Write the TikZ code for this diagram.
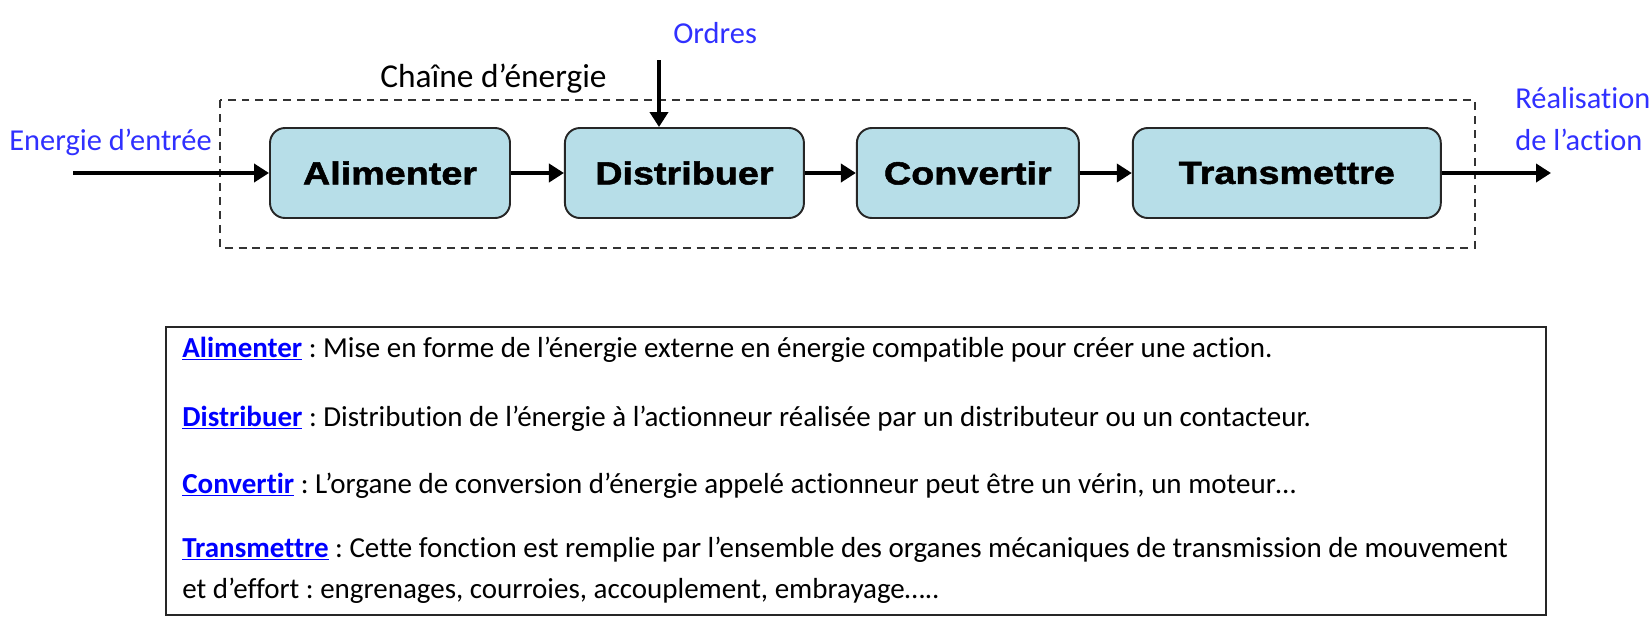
\documentclass[tikz,border=0pt]{standalone}
\usepackage{fontspec}
\setmainfont{Carlito}[Ligatures=NoCommon]
\newfontfamily\blocfont[FakeStretch=1.18, BoldFeatures={FakeBold=1.6}]{Liberation Sans}
\usepackage{xcolor}
\usetikzlibrary{arrows.meta,positioning}
\definecolor{bleuciel}{HTML}{B7DEE8}
\definecolor{bleutxt}{HTML}{3030FF}
\definecolor{bordgris}{HTML}{262626}
\definecolor{tiretgris}{HTML}{333333}
\newcommand{\lien}[1]{{\color{blue}\underline{\textbf{#1}}}}
\frenchspacing

\tikzset{
  bloc/.style={draw=bordgris, line width=1.1pt, fill=bleuciel, rounded corners=0.3cm,
    minimum height=1.8cm, font=\blocfont\fontsize{18.2}{20}\selectfont\bfseries},
  fleche/.style={-{Triangle[length=0.3cm,width=0.36cm]}, line width=2.8pt},
  etiq/.style={anchor=base west, inner sep=0pt, font=\fontsize{16.5}{20}\selectfont},
  bleu/.style={etiq, text=bleutxt, font=\fontsize{17.3}{20}\selectfont},
  chaine/.style={draw=tiretgris, line width=1.3pt, dash pattern=on 4.5pt off 3.4pt},
  cadre/.style={draw=bordgris, line width=1pt}
}

\begin{document}
\begin{tikzpicture}
    \useasboundingbox (0,0) rectangle (33,-12.64);
    % chaine d'energie
    \draw[chaine] (4.4,-2.0) rectangle (29.5,-4.96);
    \node[etiq, font=\fontsize{19}{22}\selectfont] (chainelbl) at (7.6,-1.74) {Chaîne d’énergie};
    \node[bloc, minimum width=4.8cm] (alim) at (7.8,-3.46) {Alimenter};
    \node[bloc, minimum width=4.78cm, right=1.06cm of alim] (dist) {Distribuer};
    \node[bloc, minimum width=4.44cm, right=1.02cm of dist] (conv) {Convertir};
    \node[bloc, minimum width=6.16cm, right=1.04cm of conv] (trans) {Transmettre};
    % entrees / sorties
    \coordinate (entree) at (1.46,-3.46);
    \coordinate (sortie) at (31.02,-3.46);
    \coordinate (ordin) at (13.18,-1.2);
    \draw[fleche] (entree) -- (alim);
    \draw[fleche] (alim) -- (dist);
    \draw[fleche] (dist) -- (conv);
    \draw[fleche] (conv) -- (trans);
    \draw[fleche] (trans) -- (sortie);
    \draw[fleche] (ordin) -- (ordin |- dist.north);
    \node[bleu] (ordres) at (13.46,-0.86) {Ordres};
    \node[bleu] (entreelbl) at (0.18,-3.0) {Energie d’entrée};
    \node[bleu] (real) at (30.3,-2.16) {Réalisation};
    \node[bleu] (action) at (30.3,-3.0) {de l’action};
    % definitions
    \draw[cadre] (3.32,-6.54) rectangle (30.92,-12.3);
    \node[etiq] (defalim) at (3.64,-7.14) {\lien{Alimenter} : Mise en forme de l’énergie externe en énergie compatible pour créer une action.};
    \node[etiq] (defdist) at (3.64,-8.52) {\lien{Distribuer} : Distribution de l’énergie à l’actionneur réalisée par un distributeur ou un contacteur.};
    \node[etiq] (defconv) at (3.64,-9.86) {\lien{Convertir} : L’organe de conversion d’énergie appelé actionneur peut être un vérin, un moteur…};
    \node[etiq] (deftrans) at (3.64,-11.14) {\lien{Transmettre} : Cette fonction est remplie par l’ensemble des organes mécaniques de transmission de mouvement};
    \node[etiq] (defsuite) at (3.64,-11.96) {et d’effort : engrenages, courroies, accouplement, embrayage…..};
\end{tikzpicture}
\end{document}
